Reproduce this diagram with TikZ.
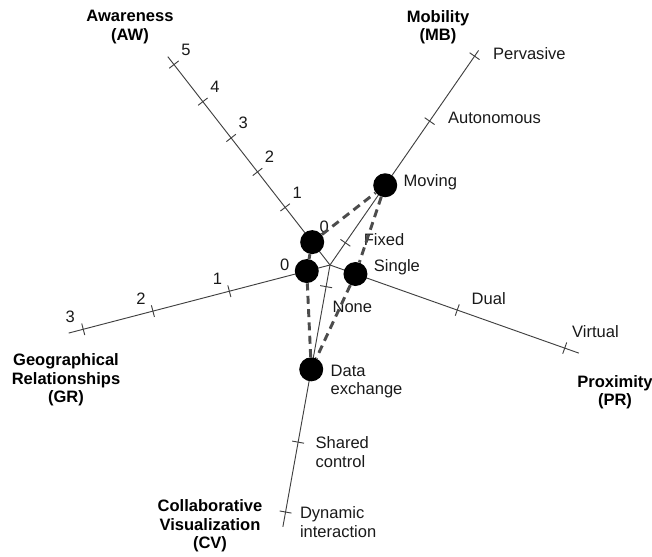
\documentclass[tikz,border=0pt]{standalone}
\usepackage{fontspec}
\setmainfont{Liberation Sans}

\begin{document}
\begin{tikzpicture}[x=0.75pt,y=0.75pt,
    axis/.style={draw=black!75,line width=0.7pt},
    val/.style={inner sep=0pt,text=black!90,font=\fontsize{12.4}{13.9}\selectfont},
    heading/.style={align=center,inner sep=0pt,font=\fontsize{12.4}{13.9}\selectfont\bfseries},
    dot/.style={circle,fill=black,inner sep=0pt,minimum size=18pt},
    link/.style={draw=black!70,line width=2.2pt,dash pattern=on 6pt off 4pt}]
    \useasboundingbox (-330,-291) rectangle (322,265);
    % axes
    \coordinate (o) at (0,0);
    \coordinate (aw) at (127.9:264);
    \coordinate (mb) at (55.3:261);
    \coordinate (gr) at (194.6:270);
    \coordinate (cv) at (259.8:266);
    \coordinate (pr) at (340.5:264);
    \draw[axis] (o) -- (aw);
    \draw[axis] (o) -- (mb);
    \draw[axis] (o) -- (gr);
    \draw[axis] (o) -- (cv);
    \draw[axis] (o) -- (pr);
    % ticks and values
    \foreach \r/\v in {29/0,73/1,118/2,161/3,207/4,254/5}
      \draw[axis] (127.9:\r) +(37.9:6) -- +(217.9:6) ++(12,15) node[val] (aw\v) {\v};
    \foreach \r/\v/\dx/\dy in {24/0/-22/6,104/1/-12/12,183/2/-12/12,255/3/-13/12}
      \draw[axis] (194.6:\r) +(104.6:6) -- +(284.6:6) ++(\dx,\dy) node[val] (gr\v) {\v};
    \foreach \r/\v/\n in {27/Fixed/fx,97/Moving/mv,175/Autonomous/au,254/Pervasive/pv}
      \draw[axis] (55.3:\r) +(145.3:6) -- +(325.3:6) ++(18,3) node[val,anchor=west] (\n) {\v};
    \foreach \r/\v/\n/\dx/\dy in {27/Single/sg/18/7,135/Dual/du/14/11,249/Virtual/vi/7/17}
      \draw[axis] (340.5:\r) +(70.5:6) -- +(250.5:6) ++(\dx,\dy) node[val,anchor=west] (\n) {\v};
    \foreach \r/\v/\n/\dx/\dy in {22/None/no/6/-20,106/{Data\\exchange}/de/19/-12,180/{Shared\\control}/sc/17/-10,251/{Dynamic\\interaction}/di/14/-10}
      \draw[axis] (259.8:\r) +(169.8:6) -- +(349.8:6) ++(\dx,\dy) node[val,anchor=west,align=left] (\n) {\v};
    % profile
    \node[dot] (awd) at (127.9:29) {};
    \node[dot] (mbd) at (55.3:97) {};
    \node[dot] (prd) at (340.5:27) {};
    \node[dot] (cvd) at (259.8:106) {};
    \node[dot] (grd) at (194.6:24) {};
    \draw[link] (awd) -- (mbd) -- (prd) -- (cvd) -- (grd) -- (awd);
    % axis names
    \node[heading] (awt) at (-200,238) {Awareness\\(AW)};
    \node[heading] (mbt) at (108,238) {Mobility\\(MB)};
    \node[heading] (grt) at (-264,-115) {Geographical\\Relationships\\(GR)};
    \node[heading] (prt) at (285,-127) {Proximity\\(PR)};
    \node[heading] (cvt) at (-120,-261) {Collaborative\\Visualization\\(CV)};
\end{tikzpicture}
\end{document}
